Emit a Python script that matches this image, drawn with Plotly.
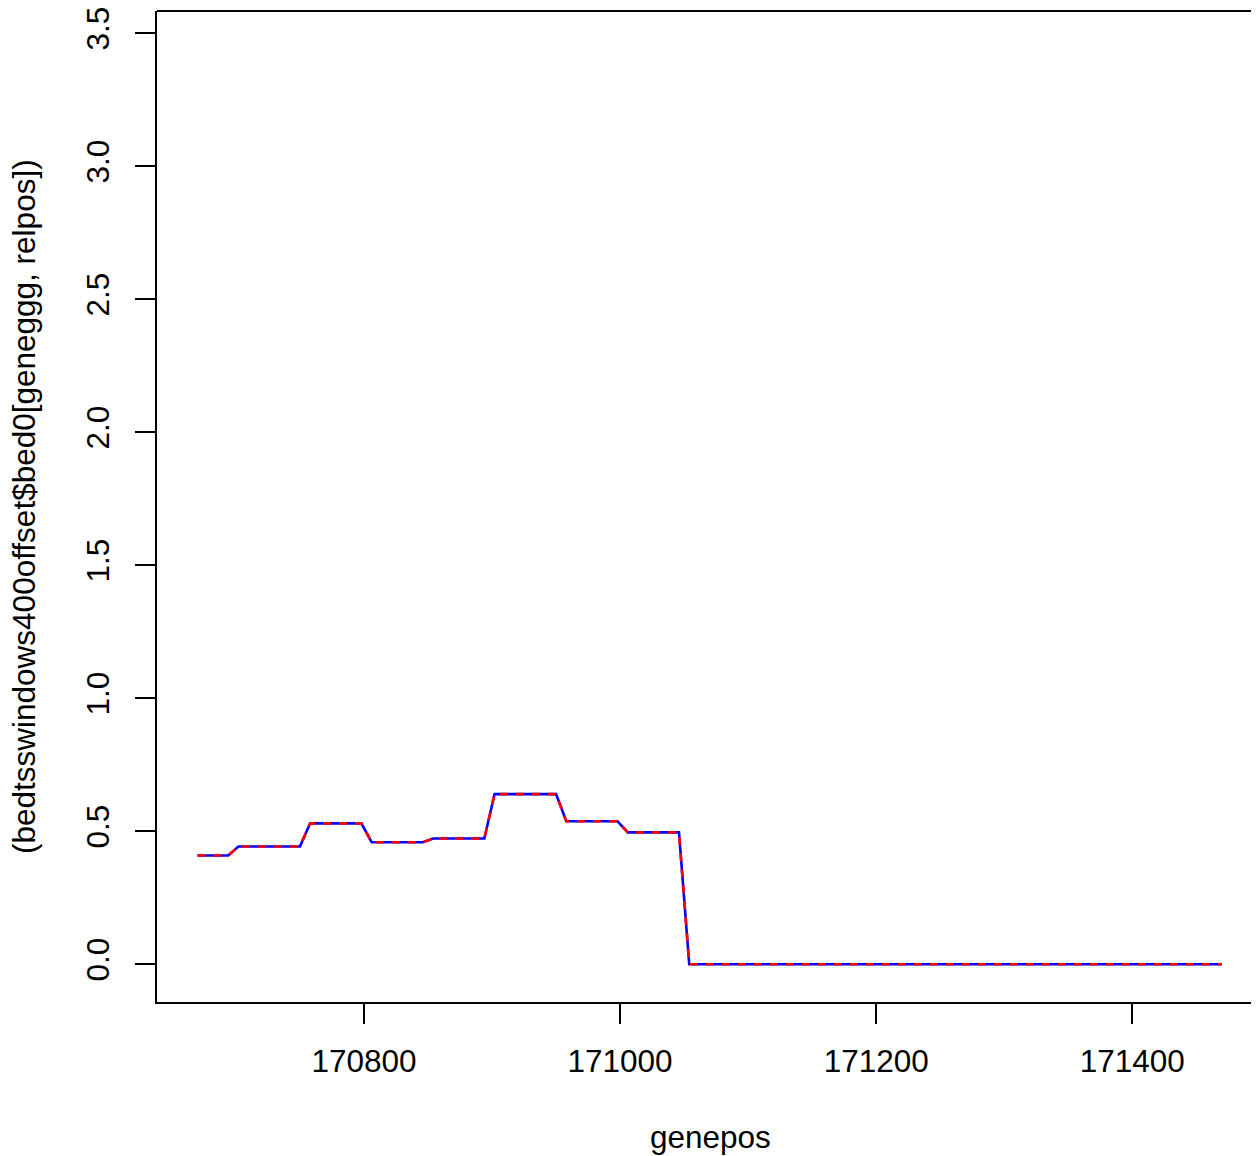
import plotly.graph_objects as go

# genomic positions (regular 8-bp grid from 170670 to 171470)
genepos = list(range(170670, 171471, 8))

# values (101 points)
signal = (
    [0.409] * 4 +      # 170670-170694
    [0.443] * 7 +      # 170702-170750
    [0.530] * 6 +      # 170758-170798
    [0.459] * 6 +      # 170806-170846
    [0.473] * 6 +      # 170854-170894
    [0.640] * 7 +      # 170902-170950
    [0.538] * 6 +      # 170958-170998
    [0.496] * 6 +      # 171006-171046
    [0.0] * 53         # 171054-171470
)

x_ticks = [170800, 171000, 171200, 171400]
y_ticks = [0.0, 0.5, 1.0, 1.5, 2.0, 2.5, 3.0, 3.5]
y_tick_text = ["0.0", "0.5", "1.0", "1.5", "2.0", "2.5", "3.0", "3.5"]

FONT = "Liberation Sans, Arial, sans-serif"
FS = 31.5

# page body has an 8px margin: figure is sized/offset to compensate
W, H = 1251, 1148
L, T, B = 149, 3, 154
PW, PH = W - L, H - T - B

fig = go.Figure()
fig.add_trace(go.Scatter(x=genepos, y=signal, mode="lines",
                         line=dict(color="#0000FF", width=2.6), showlegend=False))
fig.add_trace(go.Scatter(x=genepos, y=signal, mode="lines",
                         line=dict(color="#FF0000", width=2.6, dash="8px,8px"),
                         showlegend=False))

fig.update_layout(
    width=W, height=H,
    margin=dict(l=L, r=0, t=T, b=B, pad=0),
    paper_bgcolor="white", plot_bgcolor="white",
    font=dict(family=FONT, size=FS, color="black"),
    xaxis=dict(range=[170638.4, 171498.9], tickvals=x_ticks,
               ticktext=[str(v) for v in x_ticks],
               showgrid=False, zeroline=False, showline=True, linecolor="black",
               linewidth=2, ticks="outside", ticklen=20, tickwidth=2,
               tickcolor="black", tickfont=dict(size=FS), ticklabelstandoff=10,
               ticklabeloverflow="allow"),
    yaxis=dict(range=[-0.1417, 3.584], tickvals=y_ticks, ticktext=y_tick_text,
               showgrid=False, zeroline=False, showline=True, linecolor="black",
               linewidth=2, ticks="outside", ticklen=20, tickwidth=2,
               tickcolor="black", tickangle=-90, tickfont=dict(size=FS),
               ticklabelstandoff=13, ticklabeloverflow="allow"),
    shapes=[dict(type="line", xref="paper", yref="paper", x0=0, x1=1, y0=1, y1=1,
                 line=dict(color="black", width=2))],
    annotations=[
        dict(text="genepos", xref="paper", yref="paper",
             x=(710 - 157) / PW, y=-(1137 - 1002) / PH,
             xanchor="center", yanchor="middle", showarrow=False,
             font=dict(size=FS)),
        dict(text="(bedtsswindows400offset$bed0[geneggg, relpos])",
             xref="paper", yref="paper",
             x=-(157 - 24) / PW, y=(1002 - 507) / PH,
             xanchor="center", yanchor="middle", showarrow=False, textangle=-90,
             font=dict(size=FS)),
    ],
)

fig.write_html("out.html")
